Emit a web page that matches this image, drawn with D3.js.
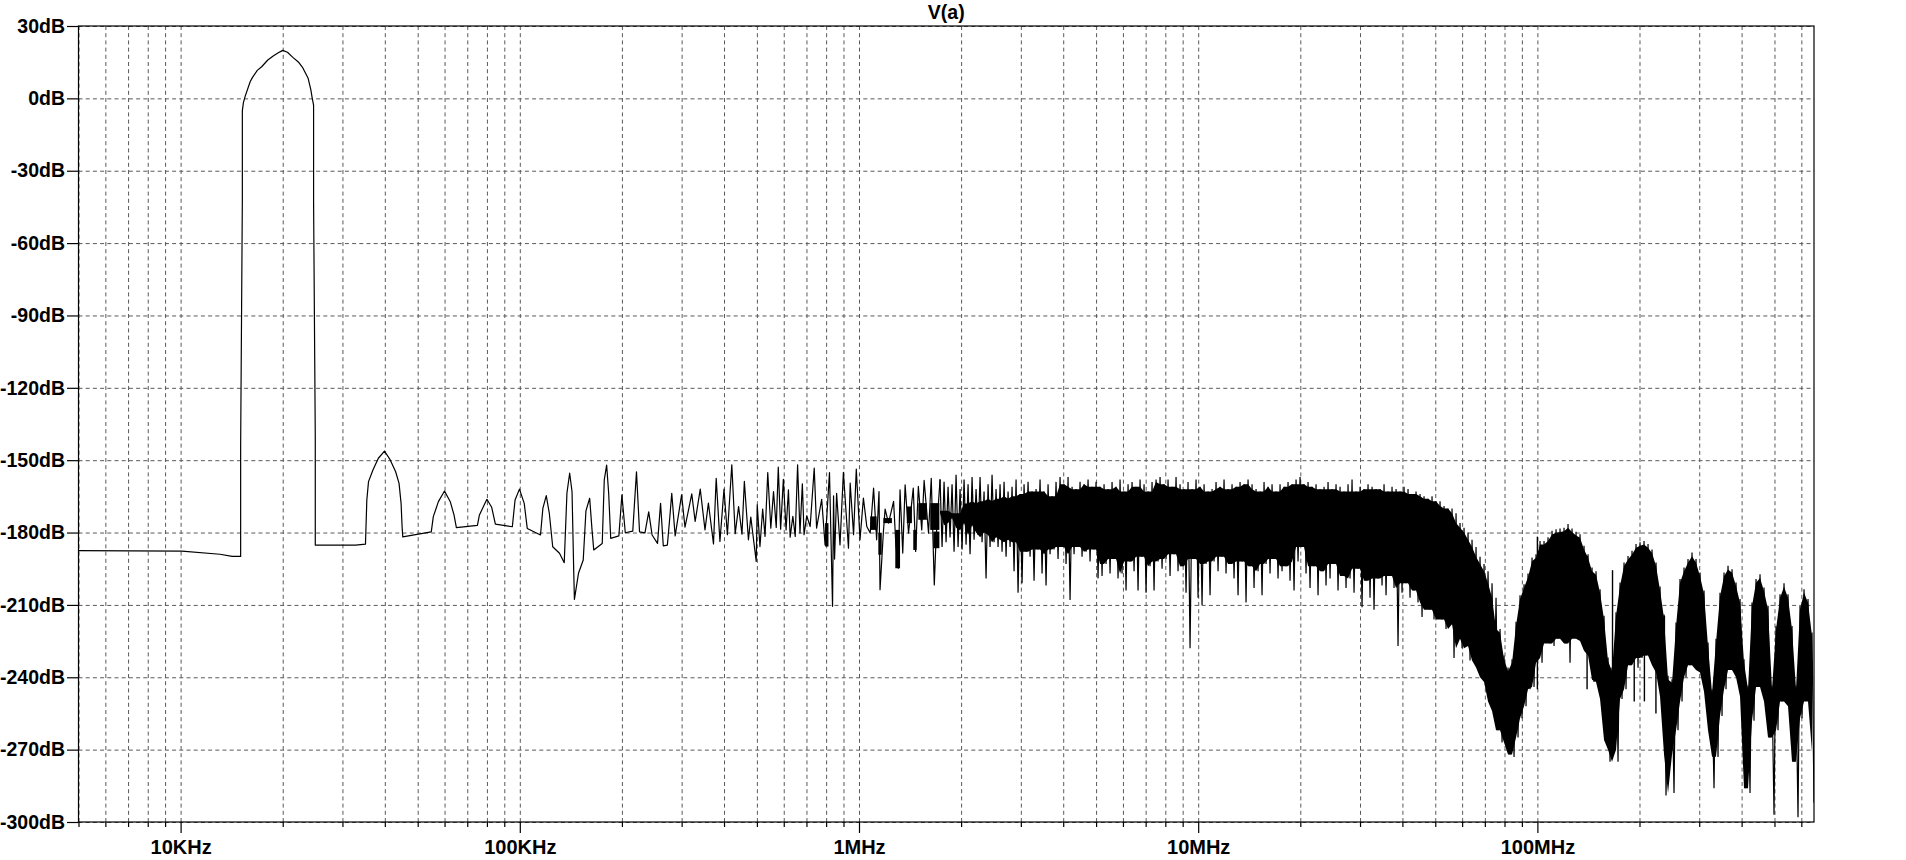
<!DOCTYPE html>
<html><head><meta charset="utf-8">
<script src="https://cdn.jsdelivr.net/npm/d3@7/dist/d3.min.js"></script>
<style>
html,body{margin:0;padding:0;background:#fff}
svg{display:block}
text{font-family:"Liberation Sans",Arial,sans-serif;font-weight:700;font-size:19.5px;fill:#000}
</style></head><body>
<svg id="c" width="1906" height="860"></svg>
<script>
const titleText = "V(a)";
const yTickValues = [30,0,-30,-60,-90,-120,-150,-180,-210,-240,-270,-300];
const xMajorHz = [1e4,1e5,1e6,1e7,1e8];
const xMajorLabels = ["10KHz","100KHz","1MHz","10MHz","100MHz"];
const xMinorHz = [5e3,6e3,7e3,8e3,9e3,
 2e4,3e4,4e4,5e4,6e4,7e4,8e4,9e4,
 2e5,3e5,4e5,5e5,6e5,7e5,8e5,9e5,
 2e6,3e6,4e6,5e6,6e6,7e6,8e6,9e6,
 2e7,3e7,4e7,5e7,6e7,7e7,8e7,9e7,
 2e8,3e8,4e8,5e8,6e8];

// low-frequency trace: log10(Hz) and dB, read point by point
const traceLogHz = [3.699,4.004,4.116,4.152,4.177,4.177,4.182,4.182,4.185,4.190,4.205,4.212,4.226,4.239,4.257,4.274,4.288,4.301,4.315,4.331,4.347,4.360,4.376,4.384,4.388,4.392,4.392,4.397,4.397,4.516,4.545,4.549,4.554,4.567,4.583,4.601,4.618,4.634,4.644,4.650,4.653,4.655,4.739,4.745,4.760,4.778,4.795,4.806,4.813,4.875,4.881,4.903,4.917,4.928,4.978,4.986,4.999,5.013,5.022,5.061,5.068,5.078,5.087,5.097,5.117,5.131,5.139,5.147,5.154,5.159,5.161,5.173,5.187,5.195,5.206,5.213,5.218,5.243,5.249,5.256,5.262,5.268,5.292,5.301,5.311,5.333,5.344,5.353,5.369,5.380,5.390,5.406,5.415,5.423,5.435,5.442,
 5.448,5.458,5.477,5.487,5.507,5.517,5.532,5.546,5.556,5.571,5.579,5.590,5.602,5.612,5.625,5.635,5.645,5.655,5.662,5.674,5.681,5.697,5.700,5.708,5.716,5.723,5.731,5.740,5.748,5.756,5.762,5.769,5.777,5.785,5.792,5.797,5.805,5.812,5.819,5.826,5.833,5.838,5.846,5.856,5.868,5.875,5.890,5.900,5.913,5.922,5.925,5.928,5.934,5.944,5.954,5.969,5.974,5.984,5.992,6.003,6.013,6.023,6.033,6.043,6.052,6.059,6.062,6.072,6.077,6.087,6.102,6.109,6.116,6.121,6.129,6.136,6.146,6.160,6.167,6.175,6.185,6.192,6.205,6.213,6.222,6.227,6.239];
const traceDb = [-187.5,-187.7,-189,-189.9,-189.9,-144.1,-42.1,-5.2,-1.9,0.7,6.9,8.7,11.6,13.1,15.9,17.7,18.9,19.9,19.1,17,15.1,12.7,8.3,3.5,0.1,-2.8,-42.1,-139.6,-185.2,-185.2,-184.8,-166.5,-158.9,-154.1,-149.2,-146.2,-149.9,-154.8,-159.6,-167.9,-177.6,-181.8,-179.7,-173.4,-167.2,-162.8,-167.2,-172.7,-178,-177,-172.7,-166.2,-169.5,-176.5,-177.6,-166.5,-162,-167.9,-178.3,-181,-170,-164.7,-172,-185.9,-188.6,-192.5,-163.6,-155.4,-163.1,-196.2,-207.7,-196.9,-191.4,-171,-165.8,-179,-187.2,-184.5,-158.2,-152,-163.7,-182.4,-181.4,-164.4,-180.1,-179.4,-154.8,-179.7,-180.1,-171.4,-181,-184.5,-167.9,-185.5,-185.2,-174.1,
 -163.7,-181.4,-164.4,-177.8,-164,-175.4,-162,-178.9,-167.8,-184.7,-157.5,-183.7,-162,-180.9,-151.9,-180.5,-169.2,-180.7,-158.8,-183,-173.6,-192,-168.5,-185.8,-170.3,-181.6,-155.1,-178.2,-163,-177.9,-152.9,-178.6,-157.9,-178.9,-162.3,-181.9,-173.3,-181.6,-151.9,-180.2,-159.8,-180.9,-173.1,-177.5,-153.3,-178.2,-166.2,-185.1,-155.1,-210.6,-164.8,-191,-163.7,-185.1,-155,-186.5,-159.5,-180.9,-153.7,-183,-165.7,-177.5,-180.2,-161.6,-183,-163,-203.7,-179.6,-170.3,-176.1,-167.1,-185.8,-194.8,-162.3,-188.5,-160.2,-180.2,-161.6,-187.8,-160.9,-178.9,-158.4,-180.2,-157.5,-201.7,-183,-157.9];

// tight clusters of overlapping lines around 1-2 MHz
const clusterStartLogHz = [5.900,6.033,6.057,6.072,6.107,6.141,6.160,6.175,6.210,6.219];
const clusterEndLogHz   = [5.910,6.052,6.067,6.097,6.121,6.156,6.170,6.200,6.237,6.237];
const clusterTopDb      = [-176.1,-173.3,-180.2,-174,-178.9,-169.2,-178.9,-167.8,-167.8,-179.6];
const clusterBottomDb   = [-185.8,-178.9,-189.2,-176.1,-194.8,-176.1,-187.2,-174.7,-178.9,-186.5];

// dense part of the spectrum: analysis bins evenly spaced on the log axis,
// with the highest and lowest reading seen in each bin
const binFirstLogHz = 6.239;
const binWidthDecades = 0.011792;
const binPeakDb = [
 -158,-159,-161,-160,-156,-162,-158,-160,-157,-162,-157,-163,-160,-156,-162,-160,-159,-163,-161,-158,
 -164,-160,-159,-163,-162,-158,-163,-160,-165,-159,-157,-160,-157,-161,-162,-159,-160,-158,-161,-159,
 -161,-160,-162,-159,-161,-158,-163,-160,-159,-161,
 -158,-160,-163,-159,-158,-157,-160,-158,-161,-157,
 -160,-162,-159,-162,-158,-161,-160,-163,-162,-159,
 -161,-158,-162,-160,-161,-159,-160,-158,-160,-162,
 -163,-159,-161,-160,-163,-160,-161,-159,-160,-158,
 -157,-160,-159,-161,-160,-162,-161,-159,-162,-160,
 -161,-163,-160,-158,-163,-161,-162,-160,-161,-162,
 -162,-160,-163,-161,-162,-163,-161,-162,-164,-163,
 -164,-165,-166,-165,-167,-167,-169,-170,-170,-172,
 -176,-178,-180,-183,-186,-190,-193,-196,-201,-207,
 -220,-231,-236,-232.5,-217,-206,-201.4,-197,-190.4,-189,-183.5,-183.5,-182,-179.3,-178.6,-178.3,-178,-176.5,-178.3,-179.7,-180.7,-185.5,-189,-194.5,-196,-203.5,-214.5,-231.8,
 -236,-213,-200.7,-192.4,-189.7,-187.6,-184.8,-184,-183.5,-184.8,-187,-192.4,-202.4,-214,-239.4,-240.8,-217.3,-199.3,-194.5,-191,-188.3,-191,-196.6,-204,-225.6,-245,-224,-205,-196.6,-193.8,-195.2,-200.7,-207.6,-232.5,-243.5,-209,-199.3,-197.3,-202.8,-210.4,-243.5,-218.7,-205.6,-201,-205.6,-218.7,-243.5,-210.4,-203.5,-207.6,-221.4];
const binFloorDb = [
 -186,-184,-182,-188,-186,-187,-185,-189,-183,-181,-184,-199,-186,-184,-186,-188,-190,-186,-196,-205,
 -201,-188,-190,-200,-187,-197,-202,-189,-187,-191,-186,-193,-208,-189,-186,-190,-188,-192,-187,-199,
 -198,-193,-197,-191,-199,-197,-204,-192,-196,-204,
 -190,-205,-194,-204,-192,-195,-191,-198,-189,-196,
 -194,-205,-228,-191,-207,-210,-193,-206,-192,-196,
 -190,-197,-193,-199,-206,-192,-209,-194,-203,-196,
 -206,-193,-197,-191,-199,-196,-194,-200,-204,-192,
 -186,-197,-203,-194,-206,-196,-202,-199,-193,-204,
 -198,-203,-199,-205,-195,-211,-200,-207,-212,-199,
 -202,-206,-198,-203,-227,-205,-201,-207,-204,-209,
 -215,-208,-212,-216,-209,-216,-220,-213,-232,-218,
 -228,-224,-233,-227,-236,-240,-242,-250,-254,-262,
 -267,-262,-272,-273,-265,-257,-252,-245,-244,-232,
 -234,-224,-226,-227,-224,-223,-226,-234,-221,-224,
 -225,-229,-231,-242,-241,-249,-266,-275,-270,-275,
 -249,-245,-235,-230,-236,-232,-231,-229,-235,-238,
 -248,-289,-272,-288,-262,-250,-240,-235,-231,-237,
 -238,-246,-262,-286,-273,-256,-245,-237,-232,-240,
 -248,-286,-288,-258,-244,-238,-250,-265,-297,-262,
 -250,-243,-252,-275,-298,-257,-242,-250,-292];

// first bins: the solid band is still narrow here
const earlyBandTopDb = [-171,-171,-171,-172,-172,-172,-168,-168,-167,-168,-167,-167,-166,-167,-166,-166,-165,-166,-165,-165];
const earlyBandBottomDb = [-172,-177,-176,-174,-178,-179,-176,-181,-177,-180,-182,-180,-181,-184,-182,-183,-184,-183,-184,-184];

// isolated narrow spurs in the notches
const spurLogHz = [8.0,8.1465,8.2215,8.2855,8.3155,8.3495,8.3745];
const spurTopDb = [-181.7,-189.7,-195.6,-200.7,-205.6,-209.7,-214.5];
const spurBottomDb = [-245,-245,-250,-250,-250,-255,-255];

const plotLeft=78.5,plotRight=1814,plotTop=26,plotBottom=822;
const x=d3.scaleLog().domain([5e3,Math.pow(10,8.8155)]).range([plotLeft,plotRight]);
const y=d3.scaleLinear().domain([-300,30]).range([plotBottom,plotTop]);
const svg=d3.select("#c");
const dash="4,3.2", gridCol="#5a5a5a";

// grids
const xg=svg.append("g").attr("transform",`translate(0,${plotBottom})`)
 .call(d3.axisBottom(x).tickValues(xMajorHz.concat(xMinorHz)).tickSize(-(plotBottom-plotTop)).tickFormat(""));
xg.select(".domain").remove();
xg.selectAll("line").attr("stroke",gridCol).attr("stroke-dasharray",dash);
const yg=svg.append("g").attr("transform",`translate(${plotLeft},0)`)
 .call(d3.axisLeft(y).tickValues(yTickValues).tickSize(-(plotRight-plotLeft)).tickFormat(""));
yg.select(".domain").remove();
yg.selectAll("line").attr("stroke",gridCol).attr("stroke-dasharray",dash);

// clip
svg.append("clipPath").attr("id","pl").append("rect").attr("x",plotLeft).attr("y",plotTop).attr("width",plotRight-plotLeft).attr("height",plotBottom-plotTop);
const plot=svg.append("g").attr("clip-path","url(#pl)");

const hz=e=>Math.pow(10,e);
const line=d3.line().x(d=>x(hz(d[0]))).y(d=>y(d[1]));

// trace
plot.append("path").attr("fill","none").attr("stroke","#000").attr("stroke-width",1.2).attr("stroke-linejoin","round")
 .attr("d",line(traceLogHz.map((e,i)=>[e,traceDb[i]])));

// clusters
plot.selectAll("rect.cluster").data(clusterStartLogHz).join("rect").attr("class","cluster")
 .attr("x",e=>x(hz(e))).attr("y",(e,i)=>y(clusterTopDb[i]))
 .attr("width",(e,i)=>x(hz(clusterEndLogHz[i]))-x(hz(e)))
 .attr("height",(e,i)=>y(clusterBottomDb[i])-y(clusterTopDb[i]))
 .attr("fill","#000");

// dense bins: solid body plus zig-zag between peak and floor
const n=binPeakDb.length;
const bins=binPeakDb.map((p,i)=>{
 const a=Math.max(0,i-1),b=Math.min(n-1,i+1);
 const f=binFloorDb.slice(a,b+1);
 let bodyTop=i>=140?p-1.5:d3.min(binPeakDb.slice(a,b+1));
 let bodyBot=i>=120?d3.median(f):d3.max(f);
 if(i<earlyBandTopDb.length){bodyTop=earlyBandTopDb[i];bodyBot=earlyBandBottomDb[i];}
 return {e:binFirstLogHz+i*binWidthDecades,peak:p,floor:binFloorDb[i],bodyTop,bodyBot:Math.min(bodyBot,bodyTop)};
});
plot.append("path").attr("fill","#000")
 .attr("d",d3.area().x(d=>x(hz(d.e))).y0(d=>y(d.bodyBot)).y1(d=>y(d.bodyTop))(bins));
const zig=[];
bins.forEach(d=>{zig.push([d.e,d.peak]);zig.push([d.e+binWidthDecades/2,d.floor]);});
plot.append("path").attr("fill","none").attr("stroke","#000").attr("stroke-width",1.2)
 .attr("d",line(zig));

// spurs
plot.selectAll("line.spur").data(spurLogHz).join("line").attr("class","spur")
 .attr("x1",e=>x(hz(e))).attr("x2",e=>x(hz(e)))
 .attr("y1",(e,i)=>y(spurTopDb[i])).attr("y2",(e,i)=>y(spurBottomDb[i]))
 .attr("stroke","#000").attr("stroke-width",1.4);

// frame
svg.append("rect").attr("x",plotLeft).attr("y",plotTop).attr("width",plotRight-plotLeft).attr("height",plotBottom-plotTop)
 .attr("fill","none").attr("stroke","#000").attr("stroke-width",1.2);

// y axis ticks + labels
const ya=svg.append("g").attr("transform",`translate(${plotLeft},0)`)
 .call(d3.axisLeft(y).tickValues(yTickValues).tickSize(11.5).tickPadding(2).tickFormat(d=>d+"dB"));
ya.select(".domain").remove();
ya.selectAll("line").attr("stroke","#000").attr("stroke-width",1.2);
ya.selectAll("text").attr("fill","#000").style("font-size","19.5px").attr("text-anchor","end");

// x ticks + labels
const xa=svg.append("g").attr("transform",`translate(0,${plotBottom})`)
 .call(d3.axisBottom(x).tickValues(xMajorHz).tickSize(11).tickPadding(6.5).tickFormat((d,i)=>xMajorLabels[i]));
xa.select(".domain").remove();
xa.selectAll("line").attr("stroke","#000").attr("stroke-width",1.2);
xa.selectAll("text").attr("fill","#000").style("font-size","20px");
const xb=svg.append("g").attr("transform",`translate(0,${plotBottom})`)
 .call(d3.axisBottom(x).tickValues(xMinorHz).tickSize(5).tickFormat(""));
xb.select(".domain").remove();
xb.selectAll("line").attr("stroke","#000").attr("stroke-width",1.2);

// title
svg.append("text").attr("x",(plotLeft+plotRight)/2).attr("y",19).attr("text-anchor","middle").text(titleText);
</script>
</body></html>
